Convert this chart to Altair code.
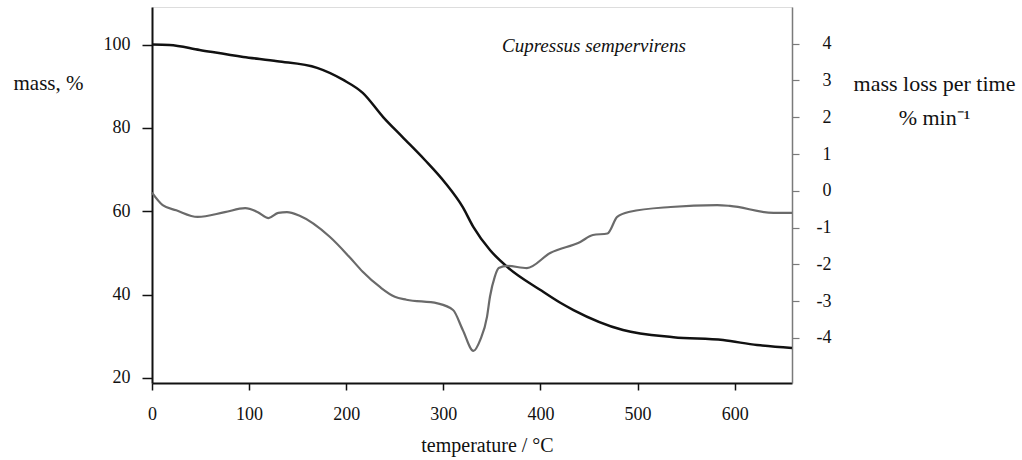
import altair as alt
import pandas as pd

# ---- data ----
temp_mass = [0, 18, 49, 94, 129, 170, 197, 217, 238, 258, 281, 302, 320, 331,
             348, 366, 400, 420, 434, 485, 537, 588, 623, 659]
mass = [100.0, 99.9, 98.7, 97.0, 96.0, 94.4, 91.5, 88.4, 82.6, 77.8, 72.3, 66.8,
        61.0, 56.2, 50.7, 46.6, 41.1, 38.1, 36.3, 31.5, 29.8, 29.1, 27.9, 27.2]

temp_dtg = [0, 11, 25, 47, 75, 96, 109, 120, 130, 139, 152, 183, 204, 217, 235,
            250, 262, 294, 310, 320, 331, 338, 345, 348, 353, 357, 366, 386, 410,
            441, 454, 469, 479, 492, 534, 582, 595, 640, 659]
dtg = [-0.05, -0.39, -0.53, -0.71, -0.58, -0.47, -0.58, -0.74, -0.60, -0.58, -0.68,
       -1.25, -1.82, -2.20, -2.62, -2.88, -2.96, -3.06, -3.24, -3.78, -4.35, -4.05,
       -3.42, -2.88, -2.33, -2.10, -2.04, -2.10, -1.69, -1.39, -1.20, -1.16, -0.71,
       -0.57, -0.44, -0.39, -0.41, -0.60, -0.60]

x_ticks = [0, 100, 200, 300, 400, 500, 600]
mass_ticks = [20, 40, 60, 80, 100]
dtg_ticks = [-4, -3, -2, -1, 0, 1, 2, 3, 4]

FONT = "Liberation Serif"
INK = "#111111"

mass_df = pd.DataFrame({"T": temp_mass, "mass": mass})
dtg_df = pd.DataFrame({"T": temp_dtg, "dtg": dtg})

x_scale = alt.Scale(domain=[0, 659], nice=False, zero=False)

x_axis = alt.Axis(
    values=x_ticks, grid=False, labelFlush=False,
    domainColor=INK, domainWidth=2, tickColor=INK, tickWidth=1.5, tickSize=7,
    labelFont=FONT, labelFontSize=18, labelColor=INK, labelPadding=15,
    title="temperature /  °C", titleFont=FONT, titleFontSize=20,
    titleFontWeight="normal", titleColor=INK, titleX=335, titleY=68,
    titleAlign="center", titleBaseline="alphabetic",
)

mass_axis = alt.Axis(
    values=mass_ticks, grid=False,
    domainColor=INK, domainWidth=2, tickColor=INK, tickWidth=1.5, tickSize=10,
    labelFont=FONT, labelFontSize=18, labelColor=INK, labelPadding=12,
    title="mass, %", titleFont=FONT, titleFontSize=21, titleFontWeight="normal",
    titleColor=INK, titleAngle=0, titleX=-104, titleY=76, titleAlign="center",
    titleBaseline="middle",
)

dtg_axis = alt.Axis(
    orient="right", values=dtg_ticks, grid=False,
    domainColor="#7a7a7a", domainWidth=1.5, tickColor="#7a7a7a", tickWidth=1.2,
    tickSize=7, labelFont=FONT, labelFontSize=18, labelColor=INK,
    labelAlign="right", labelPadding=32, labelExpr="'' + datum.value",
    title=["mass loss per time", "% min⁻¹"], titleFont=FONT, titleFontSize=22,
    titleFontWeight="normal", titleColor=INK, titleAngle=0, titleX=142,
    titleY=83, titleAlign="center", titleBaseline="alphabetic",
    titleLineHeight=34,
)

mass_line = alt.Chart(mass_df).mark_line(
    color=INK, strokeWidth=2.5, interpolate="monotone"
).encode(
    x=alt.X("T:Q", scale=x_scale, axis=x_axis),
    y=alt.Y("mass:Q", scale=alt.Scale(domain=[18.8, 109.0], nice=False, zero=False),
            axis=mass_axis),
)

dtg_line = alt.Chart(dtg_df).mark_line(
    color="#6a6a6a", strokeWidth=2.2, interpolate="monotone"
).encode(
    x=alt.X("T:Q", scale=x_scale, axis=x_axis),
    y=alt.Y("dtg:Q", scale=alt.Scale(domain=[-5.223, 4.995], nice=False, zero=False),
            axis=dtg_axis),
)

chart = alt.layer(mass_line, dtg_line).resolve_scale(y="independent").properties(
    width=640,
    height=376,
    autosize=alt.AutoSizeParams(type="none"),
    padding={"left": 152, "top": 7, "right": 230, "bottom": 77},
    title=alt.TitleParams(
        "Cupressus sempervirens", font=FONT, fontSize=19, fontStyle="italic",
        fontWeight="normal", color=INK, anchor="start", frame="group",
        dx=350, dy=64, offset=0, baseline="alphabetic",
    ),
).configure_view(strokeWidth=0, stroke="transparent").configure(background="white")

chart.save("out.html", embed_options={"renderer": "svg", "actions": False})
